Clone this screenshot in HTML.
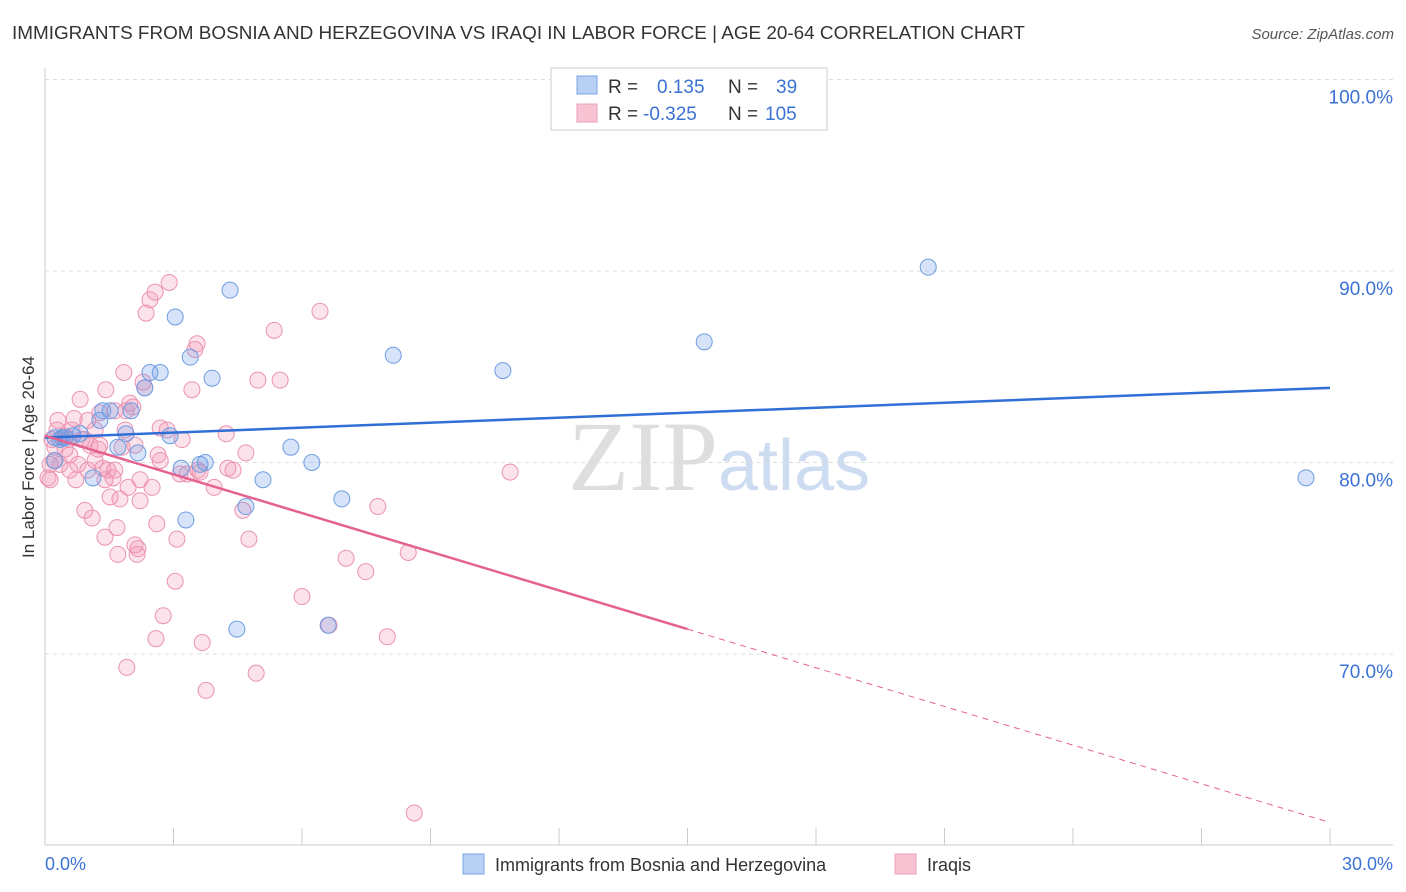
<!DOCTYPE html>
<html><head><meta charset="utf-8"><style>
body{margin:0;background:#fff;font-family:"Liberation Sans",sans-serif;}
#c{position:absolute;left:0;top:0;}
</style></head><body>
<svg id="c" width="1406" height="892" xmlns="http://www.w3.org/2000/svg">
<text x="12" y="39" font-size="18.9" fill="#333">IMMIGRANTS FROM BOSNIA AND HERZEGOVINA VS IRAQI IN LABOR FORCE | AGE 20-64 CORRELATION CHART</text>
<text x="1394" y="39" font-size="15" fill="#555" font-style="italic" text-anchor="end">Source: ZipAtlas.com</text>
<text x="718" y="490" font-size="100" fill="#dedede" text-anchor="end" font-family="Liberation Serif,serif">ZIP</text>
<text x="718" y="490" font-size="72" fill="#cddcf1">atlas</text>
<g id="grid"></g><g id="axes"></g><g id="pts"></g><g id="trend"></g>
<text transform="translate(34,457) rotate(-90)" font-size="17" fill="#333" text-anchor="middle">In Labor Force | Age 20-64</text>
<g>
<rect x="551" y="68" width="276" height="62" fill="#fff" stroke="#ccc"/>
<rect x="577" y="76" width="20" height="18" fill="#b8d0f4" stroke="#7aa4e4"/>
<rect x="577" y="104" width="20" height="18" fill="#f8c4d4" stroke="#eba0b8"/>
<text x="608" y="93" font-size="19" fill="#333">R =</text>
<text x="657" y="93" font-size="19" fill="#3b72d4">0.135</text>
<text x="728" y="93" font-size="19" fill="#333">N =</text>
<text x="776" y="93" font-size="19" fill="#3b72d4">39</text>
<text x="608" y="120" font-size="19" fill="#333">R =</text>
<text x="643" y="120" font-size="19" fill="#3b72d4">-0.325</text>
<text x="728" y="120" font-size="19" fill="#333">N =</text>
<text x="765" y="120" font-size="19" fill="#3b72d4">105</text>
</g>
<g>
<rect x="463" y="854" width="21" height="20" fill="#b8d0f4" stroke="#7aa4e4"/>
<text x="495" y="871" font-size="18" fill="#333">Immigrants from Bosnia and Herzegovina</text>
<rect x="895" y="854" width="21" height="20" fill="#f8c4d4" stroke="#eba0b8"/>
<text x="927" y="871" font-size="18" fill="#333">Iraqis</text>
</g>
</svg>
<script>
const yTicks=[100,90,80,70];
const yTickLabels=["100.0%","90.0%","80.0%","70.0%"];
const xTicks=[0,3,6,9,12,15,18,21,24,27,30];
const blueX=[0.23,0.40,0.65,0.82,1.12,1.35,1.52,1.70,1.89,2.01,2.17,2.33,2.45,2.69,2.92,3.04,3.18,3.29,3.39,3.62,3.74,3.90,4.32,4.48,4.69,5.09,5.74,6.23,6.61,6.93,8.13,10.69,15.39,20.62,29.44,0.23,0.35,1.28,0.47];
const blueY=[81.3,81.3,81.4,81.5,79.2,82.7,82.7,80.8,81.5,82.7,80.5,83.9,84.7,84.7,81.4,87.6,79.7,77.0,85.5,79.9,80.0,84.4,89.0,71.3,77.7,79.1,80.8,80.0,71.5,78.1,85.6,84.8,86.3,90.2,79.2,80.1,81.2,82.2,81.3];
const pinkX=[0.07,0.12,0.16,0.21,0.23,0.28,0.35,0.40,0.47,0.54,0.58,0.63,0.68,0.72,0.77,0.82,0.86,0.93,1.00,1.05,1.10,1.17,1.24,1.28,1.35,1.40,1.42,1.47,1.52,1.59,1.63,1.68,1.70,1.75,1.80,1.84,1.89,1.91,1.94,1.98,2.05,2.10,2.15,2.17,2.22,2.29,2.33,2.36,2.45,2.50,2.57,2.59,2.61,2.64,2.69,2.76,2.85,2.90,3.04,3.08,3.20,3.32,3.43,3.50,3.55,3.57,3.62,3.67,3.76,3.95,4.23,4.27,4.39,4.62,4.69,4.76,4.93,4.97,5.35,5.49,6.00,6.42,6.63,7.03,7.49,7.77,7.99,8.48,8.62,10.86,0.12,0.30,0.47,0.58,0.93,1.17,1.40,1.63,1.87,2.10,1.00,1.28,2.69,3.15,2.22];
const pinkY=[79.2,79.9,81.2,80.1,80.8,81.7,79.9,81.3,80.7,81.2,80.4,81.7,82.3,79.1,79.9,83.3,81.2,77.5,82.2,80.9,77.1,81.7,80.7,82.6,79.7,76.1,83.8,79.6,78.2,79.2,82.7,76.6,75.2,78.1,80.8,84.7,82.7,69.3,78.7,83.1,82.9,75.7,75.2,75.5,79.1,84.2,83.9,87.8,88.5,78.7,88.9,70.8,76.8,80.4,81.8,72.0,81.7,89.4,73.8,76.0,81.2,79.4,83.8,85.9,86.2,79.6,79.5,70.6,68.1,78.7,81.5,79.7,79.6,77.5,80.5,76.0,69.0,84.3,86.9,84.3,73.0,87.9,71.5,75.0,74.3,77.7,70.9,75.3,61.7,79.5,79.1,82.2,81.4,79.6,81.2,80.1,79.1,79.6,81.7,80.9,79.6,80.9,80.1,79.4,78.0];
const blueTrend=[81.3,83.9];
const pinkTrend=[81.4,61.2];
const pinkSolidEnd=15;
const NS="http://www.w3.org/2000/svg";
const sx=v=>45+v*1285/30;
const sy=v=>79.5+(100-v)*19.15;
function mk(p,tag,a){const e=document.createElementNS(NS,tag);for(const k in a)e.setAttribute(k,a[k]);p.appendChild(e);return e;}
const grid=document.getElementById('grid'),axes=document.getElementById('axes'),pts=document.getElementById('pts'),trend=document.getElementById('trend');
yTicks.forEach((t,i)=>{
 const l=mk(grid,'line',{x1:45,x2:1393,y1:sy(t),y2:sy(t),stroke:'#ddd','stroke-dasharray':'4,4'});
 
 
 const tx=mk(grid,'text',{x:1393,y:sy(t)+24,'font-size':19,fill:'#3b72d4','text-anchor':'end'});
 tx.textContent=yTickLabels[i];
 
 
});
mk(axes,'line',{x1:45,x2:45,y1:68,y2:845,stroke:'#ccc'});
mk(axes,'line',{x1:45,x2:1393,y1:845,y2:845,stroke:'#ccc'});
xTicks.forEach(t=>{
 const l=mk(axes,'line',{x1:sx(t),x2:sx(t),y1:828,y2:845,stroke:'#ccc'});
 
 
});
const xl0=mk(axes,'text',{x:45,y:870,'font-size':18,fill:'#3b72d4'});xl0.textContent='0.0%';


const xl1=mk(axes,'text',{x:1393,y:870,'font-size':18,fill:'#3b72d4','text-anchor':'end'});xl1.textContent='30.0%';


pinkX.forEach((x,i)=>{
 const c=mk(pts,'circle',{cx:sx(x),cy:sy(pinkY[i]),r:8,fill:'rgba(243,150,180,0.28)',stroke:'#eb93b0','stroke-width':1});
 
 
});
blueX.forEach((x,i)=>{
 const c=mk(pts,'circle',{cx:sx(x),cy:sy(blueY[i]),r:8,fill:'rgba(110,155,230,0.28)',stroke:'#6d9de2','stroke-width':1});
 
 
});
const bt=mk(trend,'line',{x1:sx(0),y1:sy(blueTrend[0]),x2:sx(30),y2:sy(blueTrend[1]),stroke:'#2f6fd6','stroke-width':2.5});


const pm=pinkTrend[0]+(pinkTrend[1]-pinkTrend[0])*pinkSolidEnd/30;
const pt=mk(trend,'line',{x1:sx(0),y1:sy(pinkTrend[0]),x2:sx(pinkSolidEnd),y2:sy(pm),stroke:'#e5628e','stroke-width':2.5});


const pd=mk(trend,'line',{x1:sx(pinkSolidEnd),y1:sy(pm),x2:sx(30),y2:sy(pinkTrend[1]),stroke:'#e5628e','stroke-width':1,'stroke-dasharray':'6,5'});


</script>
</body></html>
